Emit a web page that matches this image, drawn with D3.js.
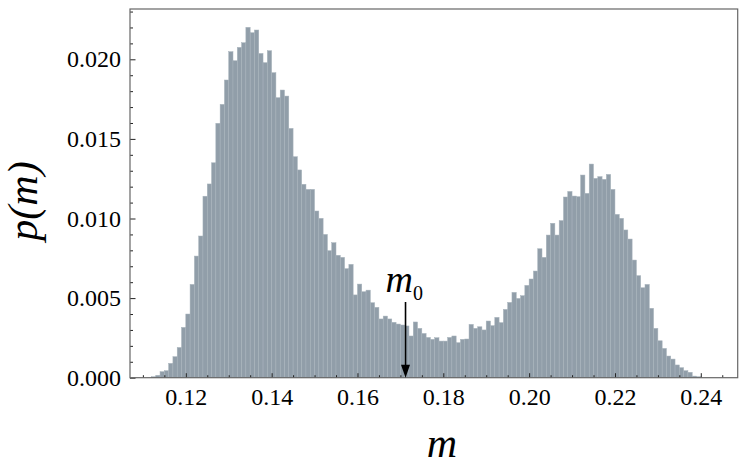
<!DOCTYPE html>
<html>
<head>
<meta charset="utf-8">
<script src="https://cdn.jsdelivr.net/npm/d3@7"></script>
<style>
  body { margin: 0; background: #fff; }
  svg text { font-family: "Liberation Serif", "Times New Roman", serif; fill: #000; }
  .tick line { stroke: #222; }
</style>
</head>
<body>
<div id="chart-area"></div>
<script>
// bin left edges: 0.112 .. 0.239, width 0.001
const binStart = 0.112;
const binWidth = 0.001;
const density = [
  0.00006, 0.00015, 0.00038, 0.00044, 0.00090, 0.00132, 0.00190, 0.00316,
  0.00400, 0.00586, 0.00764, 0.00890, 0.01140, 0.01217, 0.01350, 0.01598,
  0.01717, 0.01870, 0.02048, 0.01991, 0.02075, 0.02104, 0.02201, 0.02167,
  0.02184, 0.02037, 0.01979, 0.02054, 0.01916, 0.01759, 0.01807, 0.01769,
  0.01566, 0.01388, 0.01305, 0.01215, 0.01183, 0.01183, 0.01047, 0.01001,
  0.00900, 0.00798, 0.00848, 0.00769, 0.00756, 0.00685, 0.00712, 0.00520,
  0.00588, 0.00540, 0.00550, 0.00471, 0.00442, 0.00369, 0.00387, 0.00369,
  0.00348, 0.00337, 0.00331, 0.00325, 0.00262, 0.00350, 0.00310, 0.00278,
  0.00253, 0.00241, 0.00251, 0.00230, 0.00230, 0.00253, 0.00262, 0.00220,
  0.00241, 0.00243, 0.00335, 0.00310, 0.00320, 0.00300, 0.00356, 0.00327,
  0.00379, 0.00346, 0.00429, 0.00473, 0.00536, 0.00498, 0.00515, 0.00580,
  0.00620, 0.00670, 0.00810, 0.00756, 0.00896, 0.00970, 0.00896, 0.00987,
  0.01135, 0.01170, 0.01141, 0.01137, 0.01273, 0.01158, 0.01342, 0.01252,
  0.01263, 0.01246, 0.01277, 0.01183, 0.01026, 0.01001, 0.00928, 0.00871,
  0.00739, 0.00641, 0.00565, 0.00586, 0.00436, 0.00310, 0.00232, 0.00184,
  0.00136, 0.00117, 0.00080, 0.00063, 0.00044, 0.00034, 0.00010, 0.00006
];
const xTicks = [0.12, 0.14, 0.16, 0.18, 0.20, 0.22, 0.24];
const yTicks = [0.000, 0.005, 0.010, 0.015, 0.020];
const m0 = 0.1712;

const width = 747, height = 467;
const margin = { top: 9, right: 9.3, bottom: 89.3, left: 130 };

const svg = d3.select('#chart-area').append('svg')
    .attr('width', width)
    .attr('height', height);

const x = d3.scaleLinear().domain([0.107, 0.2486]).range([margin.left, width - margin.right]);
const y = d3.scaleLinear().domain([0, 0.02316]).range([height - margin.bottom, margin.top]);

const bins = density.map((v, i) => ({ x0: binStart + i * binWidth, x1: binStart + (i + 1) * binWidth, v: v }));

// bars
svg.append('g').selectAll('rect')
    .data(bins)
    .enter().append('rect')
    .attr('x', d => x(d.x0))
    .attr('y', d => y(d.v))
    .attr('width', d => x(d.x1) - x(d.x0))
    .attr('height', d => y(0) - y(d.v))
    .attr('fill', '#919ea9')
    .attr('stroke', '#a8b3bc')
    .attr('stroke-width', 0.5);

// minor ticks
const xMinor = d3.range(0.11, 0.2451, 0.005).filter(t => !xTicks.some(m => Math.abs(m - t) < 1e-6));
const yMinor = d3.range(0, 0.0231, 0.001).filter(t => !yTicks.some(m => Math.abs(m - t) < 1e-6));

svg.append('g')
    .attr('transform', `translate(0,${y(0)})`)
    .call(d3.axisBottom(x).tickValues(xMinor).tickSize(-2.5).tickFormat(''))
    .call(g => g.select('.domain').remove());

svg.append('g')
    .attr('transform', `translate(${x.range()[0]},0)`)
    .call(d3.axisLeft(y).tickValues(yMinor).tickSize(-3).tickFormat(''))
    .call(g => g.select('.domain').remove());

// major ticks
svg.append('g')
    .attr('transform', `translate(0,${y(0)})`)
    .call(d3.axisBottom(x).tickValues(xTicks).tickSize(-4.5).tickPadding(10).tickFormat(d3.format('.2f')))
    .call(g => g.select('.domain').remove())
    .call(g => g.selectAll('text').style('font-size', '24px'));

svg.append('g')
    .attr('transform', `translate(${x.range()[0]},0)`)
    .call(d3.axisLeft(y).tickValues(yTicks).tickSize(-5.5).tickPadding(9).tickFormat(d3.format('.3f')))
    .call(g => g.select('.domain').remove())
    .call(g => g.selectAll('text').style('font-size', '24px'));

// frame
svg.append('rect')
    .attr('x', x.range()[0])
    .attr('y', y.range()[1])
    .attr('width', x.range()[1] - x.range()[0])
    .attr('height', y.range()[0] - y.range()[1])
    .attr('fill', 'none')
    .attr('stroke', '#666')
    .attr('stroke-width', 1.2);

// m0 arrow
svg.append('line')
    .attr('x1', x(m0)).attr('x2', x(m0))
    .attr('y1', 302).attr('y2', y(0) - 10)
    .attr('stroke', '#000')
    .attr('stroke-width', 1.6);

svg.append('path')
    .attr('d', `M${x(m0) - 4.5},${y(0) - 13} L${x(m0) + 4.5},${y(0) - 13} L${x(m0)},${y(0)} Z`)
    .attr('fill', '#000');

const m0Label = svg.append('text')
    .attr('x', x(m0) - 20)
    .attr('y', 292)
    .style('font-size', '38px')
    .style('font-style', 'italic');
m0Label.append('tspan').text('m');
m0Label.append('tspan')
    .attr('dy', 8)
    .style('font-size', '20px')
    .style('font-style', 'normal')
    .text('0');

// axis titles
svg.append('text')
    .attr('x', 442)
    .attr('y', 457)
    .attr('text-anchor', 'middle')
    .style('font-size', '42px')
    .style('font-style', 'italic')
    .text('m');

svg.append('text')
    .attr('transform', `translate(37,201) rotate(-90)`)
    .attr('text-anchor', 'middle')
    .style('font-size', '42px')
    .style('font-style', 'italic')
    .text('p(m)');
</script>
</body>
</html>
